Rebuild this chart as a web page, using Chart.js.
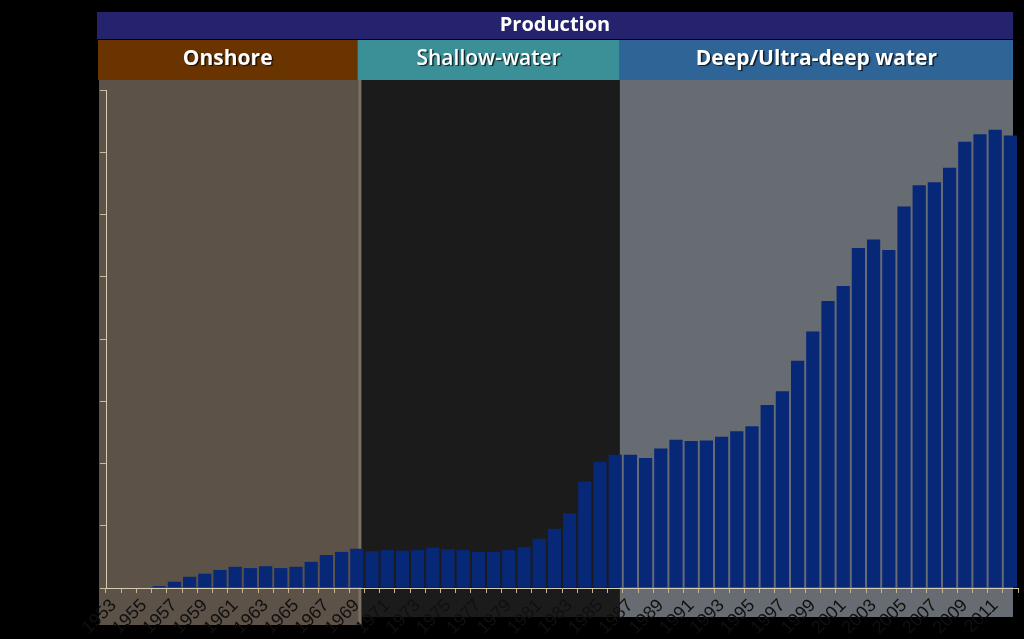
<!DOCTYPE html>
<html lang="en">
<head>
  <meta charset="UTF-8" />
  <title>Production by water depth</title>
  <script src="https://cdn.jsdelivr.net/npm/chart.js"></script>
  <style>
    html, body { margin: 0; padding: 0; background: #000; }
    #chart { display: block; }
  </style>
</head>
<body>
  <canvas id="chart" width="1024" height="639"></canvas>

  <script>
    // categories (years)
    const years = [
      '1953','1954','1955','1956','1957','1958','1959','1960','1961','1962',
      '1963','1964','1965','1966','1967','1968','1969','1970','1971','1972',
      '1973','1974','1975','1976','1977','1978','1979','1980','1981','1982',
      '1983','1984','1985','1986','1987','1988','1989','1990','1991','1992',
      '1993','1994','1995','1996','1997','1998','1999','2000','2001','2002',
      '2003','2004','2005','2006','2007','2008','2009','2010','2011','2012'
    ];
    // production values
    const production = [
      0, 0, 0, 0.03, 0.10, 0.18, 0.23, 0.29, 0.34, 0.32,
      0.35, 0.32, 0.34, 0.42, 0.53, 0.58, 0.63, 0.59, 0.61, 0.60,
      0.61, 0.65, 0.62, 0.61, 0.58, 0.58, 0.61, 0.66, 0.79, 0.95,
      1.20, 1.71, 2.03, 2.14, 2.14, 2.09, 2.24, 2.38, 2.36, 2.37,
      2.43, 2.52, 2.60, 2.94, 3.16, 3.65, 4.12, 4.61, 4.85, 5.46,
      5.60, 5.43, 6.13, 6.47, 6.52, 6.75, 7.17, 7.29, 7.36, 7.27
    ];
    // shaded periods
    const headerTitle = 'Production';
    const regionNames = ['Onshore', 'Shallow-water', 'Deep/Ultra-deep water'];
    const regionFirstYear = ['1953', '1970', '1987'];
    const regionLastYear = ['1969', '1986', '2012'];
    const regionHeadColors = ['#6a3400', '#3b8f96', '#2e6496'];
    const regionPanelColors = ['#5c5248', '#1b1b1b', '#676c73'];

    const bands = {
      id: 'bands',
      beforeDraw(chart) {
        const { ctx, chartArea, scales } = chart;
        const x = scales.x;
        const half = (x.getPixelForValue(1) - x.getPixelForValue(0)) / 2;
        const edges = regionNames.map((n, i) => {
          let l = x.getPixelForValue(years.indexOf(regionFirstYear[i])) - half - 3;
          let r = x.getPixelForValue(years.indexOf(regionLastYear[i])) + half - 3;
          if (i === 0) l = chartArea.left - 7;
          if (i === regionNames.length - 1) r = chartArea.right - 5;
          return [l, r];
        });
        ctx.save();
        // background panels
        edges.forEach(([l, r], i) => {
          ctx.fillStyle = regionPanelColors[i];
          const bottom = i === 0 ? chartArea.bottom + 37 : chartArea.bottom + 29;
          ctx.fillRect(l, chartArea.top - 10, r - l, bottom - chartArea.top + 10);
        });
        // thin light seam between onshore and shallow panels
        ctx.fillStyle = '#7a7066';
        ctx.fillRect(edges[0][1] - 3, chartArea.top - 10, 3, chartArea.bottom - chartArea.top + 47);
        // top title band
        const left = edges[0][0] - 2;
        const right = edges[edges.length - 1][1];
        ctx.fillStyle = '#26236e';
        ctx.fillRect(left, 12, right - left, 27);
        ctx.fillStyle = '#fff';
        ctx.font = 'bold 20px "Open Sans", sans-serif';
        ctx.textAlign = 'center';
        ctx.textBaseline = 'middle';
        ctx.fillText(headerTitle, (left + right) / 2, 25);
        // region headers (first divider sits a little left of the panel seam)
        const heads = edges.map(([l, r], i) => [i === 0 ? l - 1 : (i === 1 ? l - 4 : l), i === 0 ? r - 4 : r]);
        heads.forEach(([l, r], i) => {
          ctx.fillStyle = regionHeadColors[i];
          ctx.fillRect(l, 40, r - l, 40);
          ctx.save();
          ctx.shadowColor = 'rgba(0,0,0,0.75)';
          ctx.shadowOffsetX = 1.5;
          ctx.shadowOffsetY = 1.5;
          ctx.shadowBlur = 1;
          ctx.fillStyle = '#fff';
          ctx.font = (i === 1 ? '600 ' : 'bold ') + '21px "Open Sans", sans-serif';
          ctx.fillText(regionNames[i], (l + r) / 2, 59);
          ctx.restore();
        });
        ctx.restore();
      }
    };

    new Chart(document.getElementById('chart'), {
      type: 'bar',
      data: {
        labels: years,
        datasets: [{
          data: production,
          backgroundColor: '#072777',
          borderWidth: 0,
          categoryPercentage: 1,
          barPercentage: 0.87
        }]
      },
      options: {
        responsive: false,
        animation: false,
        layout: { padding: { top: 90, right: 6, left: 0, bottom: 0 } },
        plugins: { legend: { display: false }, tooltip: { enabled: false } },
        scales: {
          x: {
            grid: { display: true, drawOnChartArea: false, drawTicks: true, tickLength: 5, color: '#c9b58a' },
            border: { color: '#d6ccb6', width: 1 },
            ticks: {
              autoSkip: false,
              minRotation: 45,
              maxRotation: 45,
              padding: 2,
              color: '#101010',
              font: { family: '"Liberation Sans", Arial, sans-serif', size: 18 },
              callback: (v, i) => (i % 2 === 0 ? years[i] : '')
            },
            afterFit: (s) => { s.height = 51; s.paddingRight = 0; s.paddingLeft = 0; }
          },
          y: {
            min: 0,
            max: 8,
            ticks: { display: false, stepSize: 1 },
            grid: { display: true, drawOnChartArea: false, drawTicks: true, tickLength: 6, color: '#c9bca0' },
            border: { color: '#d6ccb6', width: 1 },
            afterFit: (s) => { s.width = 106; }
          }
        }
      },
      plugins: [bands]
    });
  </script>
</body>
</html>
